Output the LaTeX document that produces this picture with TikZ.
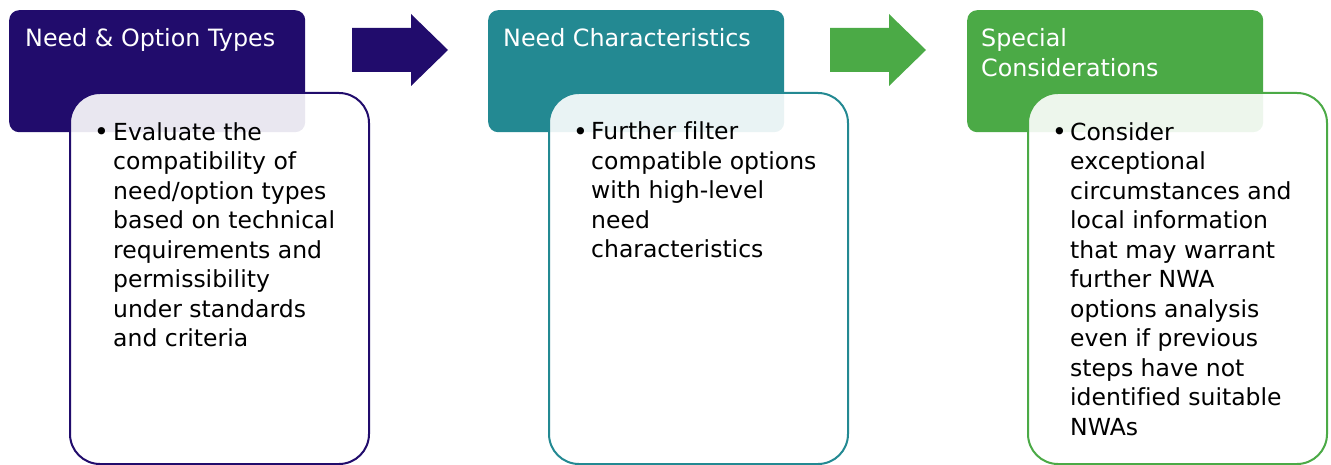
\documentclass[tikz,border=0pt]{standalone}
\usepackage{fontspec}
\setmainfont[Ligatures=NoCommon]{DejaVu Sans}
\definecolor{stepindigo}{RGB}{33,12,108}
\definecolor{stepteal}{RGB}{35,137,146}
\definecolor{stepgreen}{RGB}{75,170,70}
\tikzset{
  headbox/.style={rounded corners=10pt, minimum width=296pt, minimum height=122pt,
    inner sep=0pt, anchor=north west},
  bodybox/.style={draw, line width=2pt, fill=white, fill opacity=0.9, rounded corners=30pt,
    minimum width=299pt, minimum height=371pt, inner sep=0pt, anchor=north west},
  headtext/.style={text=white, font=\fontsize{23.8}{29.5}\selectfont, align=left,
    anchor=base west, inner sep=0pt},
  bodytext/.style={font=\fontsize{23.5}{29.5}\selectfont, align=left,
    anchor=base west, inner sep=0pt},
  bullet/.style={bodytext, font=\fontsize{25}{29.5}\selectfont},
}
% base of a many-line node is its last line
\begin{document}
\begin{tikzpicture}[x=1pt, y=-1pt]
    \useasboundingbox (0,0) rectangle (1331,465);

    % step 1
    \node[headbox, fill=stepindigo] (head1) at (9,10) {};
    \node[headtext] (title1) at (25,47) {Need \& Option Types};
    \node[bodybox, draw=stepindigo] (body1) at (69,92) {};
    \node[bullet] (dot1) at (94,141) {\textbullet};
    \node[bodytext] (text1) at (113,346.5) {Evaluate the\\compatibility of\\need/option types\\based on technical\\requirements and\\permissibility\\under standards\\and criteria};
    \fill[stepindigo] (352,28) -- (411,28) -- (411,14) -- (448,50) -- (411,86) -- (411,72) -- (352,72) -- cycle;

    % step 2
    \node[headbox, fill=stepteal] (head2) at (488,10) {};
    \node[headtext] (title2) at (503,47) {Need Characteristics};
    \node[bodybox, draw=stepteal] (body2) at (548,92) {};
    \node[bullet] (dot2) at (573,141) {\textbullet};
    \node[bodytext] (text2) at (591,258) {Further filter\\compatible options\\with high-level\\need\\characteristics};
    \fill[stepgreen] (830,28) -- (889,28) -- (889,14) -- (926,50) -- (889,86) -- (889,72) -- (830,72) -- cycle;

    % step 3
    \node[headbox, fill=stepgreen] (head3) at (967,10) {};
    \node[headtext] (title3) at (981,76.5) {Special\\Considerations};
    \node[bodybox, draw=stepgreen] (body3) at (1027,92) {};
    \node[bullet] (dot3) at (1052,141) {\textbullet};
    \node[bodytext] (text3) at (1070,435) {Consider\\exceptional\\circumstances and\\local information\\that may warrant\\further NWA\\options analysis\\even if previous\\steps have not\\identified suitable\\NWAs};

\end{tikzpicture}
\end{document}
